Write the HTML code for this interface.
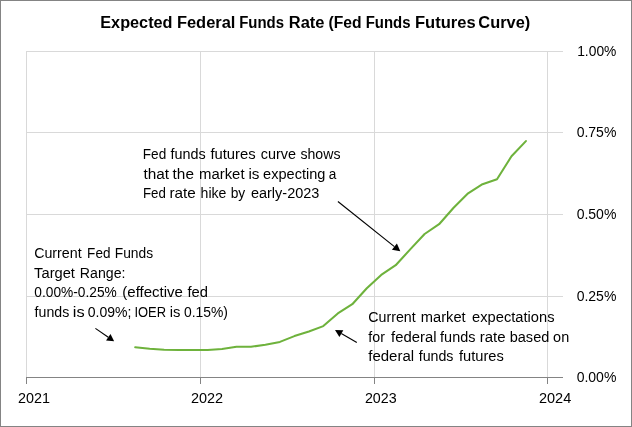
<!DOCTYPE html>
<html><head><meta charset="utf-8"><title>Expected Federal Funds Rate</title>
<style>
html,body{margin:0;padding:0;background:#fff;}
body{width:632px;height:427px;overflow:hidden;font-family:"Liberation Sans",sans-serif;}
#chart{position:absolute;left:0;top:0;width:632px;height:427px;box-sizing:border-box;border:1px solid #848484;background:#fff;}
svg{position:absolute;left:-1px;top:-1px;display:block;will-change:transform;}
</style></head><body>
<div id="chart">
<svg width="632" height="427" viewBox="0 0 632 427">
<g shape-rendering="crispEdges">
<rect x="26" y="51" width="537" height="1" fill="#d9d9d9"/>
<rect x="26" y="132" width="537" height="1" fill="#d9d9d9"/>
<rect x="26" y="214" width="537" height="1" fill="#d9d9d9"/>
<rect x="26" y="296" width="537" height="1" fill="#d9d9d9"/>
<rect x="26" y="51" width="1" height="326" fill="#d9d9d9"/>
<rect x="200" y="51" width="1" height="326" fill="#d9d9d9"/>
<rect x="374" y="51" width="1" height="326" fill="#d9d9d9"/>
<rect x="547" y="51" width="1" height="326" fill="#d9d9d9"/>
<rect x="26" y="377" width="537" height="1" fill="#848484"/>
<rect x="26" y="377" width="1" height="7" fill="#848484"/>
<rect x="200" y="377" width="1" height="7" fill="#848484"/>
<rect x="374" y="377" width="1" height="7" fill="#848484"/>
<rect x="547" y="377" width="1" height="7" fill="#848484"/>
</g>
<polyline points="135.2,347.2 149.7,348.7 164.1,349.8 178.6,349.9 193.1,349.9 207.6,350.0 222.0,348.9 236.5,346.8 251.0,346.8 265.4,344.7 279.9,341.9 294.4,336.1 308.9,331.5 323.3,326.1 337.8,313.4 352.3,304.2 366.8,288.3 381.2,274.9 395.7,265.2 410.2,249.4 424.6,234.0 439.1,224.2 453.6,207.8 468.1,193.3 482.5,184.2 497.0,179.2 511.5,156.2 525.9,141.1" fill="none" stroke="#6eb23c" stroke-width="2.05" stroke-linejoin="round" stroke-linecap="round"/>
<line x1="337.9" y1="201.5" x2="394.4" y2="246.6" stroke="#000" stroke-width="1.15"/><polygon points="400.3,251.3 391.9,249.7 396.9,243.5" fill="#000"/>
<line x1="95.4" y1="328.4" x2="108.3" y2="337.3" stroke="#000" stroke-width="1.15"/><polygon points="114.1,341.3 106.0,340.5 110.5,334.1" fill="#000"/>
<line x1="356.8" y1="342.5" x2="341.3" y2="333.6" stroke="#000" stroke-width="1.15"/><polygon points="335.0,329.9 343.3,330.2 339.4,336.9" fill="#000"/>
<g font-family="'Liberation Sans', sans-serif" fill="#000">
<text transform="translate(100.25 28.0) scale(0.9564 1)" font-size="17.0" font-weight="700">Expected</text>
<text transform="translate(176.93 28.0) scale(0.9683 1)" font-size="17.0" font-weight="700">Federal</text>
<text transform="translate(239.13 28.0) scale(0.8794 1)" font-size="17.0" font-weight="700">Funds</text>
<text transform="translate(288.83 28.0) scale(0.9690 1)" font-size="17.0" font-weight="700">Rate</text>
<text transform="translate(328.46 28.0) scale(0.9235 1)" font-size="17.0" font-weight="700">(Fed</text>
<text transform="translate(365.63 28.0) scale(0.8794 1)" font-size="17.0" font-weight="700">Funds</text>
<text transform="translate(414.93 28.0) scale(0.9739 1)" font-size="17.0" font-weight="700">Futures</text>
<text transform="translate(478.32 28.0) scale(0.9641 1)" font-size="17.0" font-weight="700">Curve)</text>
<text transform="translate(577.19 56.0) scale(0.9221 1)" font-size="15.0" font-weight="400">1.00%</text>
<text transform="translate(576.63 137.0) scale(0.9352 1)" font-size="15.0" font-weight="400">0.75%</text>
<text transform="translate(576.63 219.0) scale(0.9352 1)" font-size="15.0" font-weight="400">0.50%</text>
<text transform="translate(576.63 301.0) scale(0.9352 1)" font-size="15.0" font-weight="400">0.25%</text>
<text transform="translate(576.63 382.0) scale(0.9352 1)" font-size="15.0" font-weight="400">0.00%</text>
<text transform="translate(17.93 403.0) scale(0.9586 1)" font-size="15.0" font-weight="400">2021</text>
<text transform="translate(190.92 403.0) scale(0.9647 1)" font-size="15.0" font-weight="400">2022</text>
<text transform="translate(364.93 403.0) scale(0.9523 1)" font-size="15.0" font-weight="400">2023</text>
<text transform="translate(538.92 403.0) scale(0.9682 1)" font-size="15.0" font-weight="400">2024</text>
<text transform="translate(142.81 159.0) scale(0.9070 1)" font-size="15.0" font-weight="400">Fed</text>
<text transform="translate(170.51 159.0) scale(0.9585 1)" font-size="15.0" font-weight="400">funds</text>
<text transform="translate(210.40 159.0) scale(0.9877 1)" font-size="15.0" font-weight="400">futures</text>
<text transform="translate(260.72 159.0) scale(0.9623 1)" font-size="15.0" font-weight="400">curve</text>
<text transform="translate(300.42 159.0) scale(0.9419 1)" font-size="15.0" font-weight="400">shows</text>
<text transform="translate(143.39 179.0) scale(1.0262 1)" font-size="15.0" font-weight="400">that</text>
<text transform="translate(172.60 179.0) scale(1.0245 1)" font-size="15.0" font-weight="400">the</text>
<text transform="translate(199.01 179.0) scale(0.9939 1)" font-size="15.0" font-weight="400">market</text>
<text transform="translate(248.48 179.0) scale(1.0179 1)" font-size="15.0" font-weight="400">is</text>
<text transform="translate(263.12 179.0) scale(0.9702 1)" font-size="15.0" font-weight="400">expecting</text>
<text transform="translate(328.65 179.0) scale(0.9103 1)" font-size="15.0" font-weight="400">a</text>
<text transform="translate(142.94 198.0) scale(0.8859 1)" font-size="15.0" font-weight="400">Fed</text>
<text transform="translate(169.48 198.0) scale(1.0204 1)" font-size="15.0" font-weight="400">rate</text>
<text transform="translate(200.56 198.0) scale(0.9391 1)" font-size="15.0" font-weight="400">hike</text>
<text transform="translate(230.67 198.0) scale(0.9169 1)" font-size="15.0" font-weight="400">by</text>
<text transform="translate(250.92 198.0) scale(0.9665 1)" font-size="15.0" font-weight="400">early-2023</text>
<text transform="translate(34.13 258.0) scale(0.9503 1)" font-size="15.0" font-weight="400">Current</text>
<text transform="translate(87.12 258.0) scale(0.9028 1)" font-size="15.0" font-weight="400">Fed</text>
<text transform="translate(114.70 258.0) scale(0.9202 1)" font-size="15.0" font-weight="400">Funds</text>
<text transform="translate(34.11 278.0) scale(0.9801 1)" font-size="15.0" font-weight="400">Target</text>
<text transform="translate(79.87 278.0) scale(0.9432 1)" font-size="15.0" font-weight="400">Range:</text>
<text transform="translate(34.34 297.0) scale(0.9167 1)" font-size="15.0" font-weight="400">0.00%-0.25%</text>
<text transform="translate(122.30 297.0) scale(1.0026 1)" font-size="15.0" font-weight="400">(effective</text>
<text transform="translate(187.50 297.0) scale(0.9843 1)" font-size="15.0" font-weight="400">fed</text>
<text transform="translate(34.61 317.0) scale(0.9446 1)" font-size="15.0" font-weight="400">funds</text>
<text transform="translate(72.81 317.0) scale(1.0930 1)" font-size="15.0" font-weight="400">is</text>
<text transform="translate(87.73 317.0) scale(0.9348 1)" font-size="15.0" font-weight="400">0.09%;</text>
<text transform="translate(134.38 317.0) scale(0.8636 1)" font-size="15.0" font-weight="400">IOER</text>
<text transform="translate(169.71 317.0) scale(0.9858 1)" font-size="15.0" font-weight="400">is</text>
<text transform="translate(184.04 317.0) scale(0.9256 1)" font-size="15.0" font-weight="400">0.15%)</text>
<text transform="translate(368.24 322.0) scale(0.9482 1)" font-size="15.0" font-weight="400">Current</text>
<text transform="translate(420.82 322.0) scale(0.9783 1)" font-size="15.0" font-weight="400">market</text>
<text transform="translate(472.11 322.0) scale(0.9793 1)" font-size="15.0" font-weight="400">expectations</text>
<text transform="translate(368.31 342.0) scale(0.9468 1)" font-size="15.0" font-weight="400">for</text>
<text transform="translate(391.10 342.0) scale(0.9903 1)" font-size="15.0" font-weight="400">federal</text>
<text transform="translate(440.11 342.0) scale(0.9613 1)" font-size="15.0" font-weight="400">funds</text>
<text transform="translate(479.70 342.0) scale(0.9998 1)" font-size="15.0" font-weight="400">rate</text>
<text transform="translate(509.73 342.0) scale(0.9686 1)" font-size="15.0" font-weight="400">based</text>
<text transform="translate(553.12 342.0) scale(0.9642 1)" font-size="15.0" font-weight="400">on</text>
<text transform="translate(368.30 361.0) scale(0.9993 1)" font-size="15.0" font-weight="400">federal</text>
<text transform="translate(418.71 361.0) scale(0.9474 1)" font-size="15.0" font-weight="400">funds</text>
<text transform="translate(459.00 361.0) scale(0.9788 1)" font-size="15.0" font-weight="400">futures</text>
</g>
</svg>
</div>
</body></html>
